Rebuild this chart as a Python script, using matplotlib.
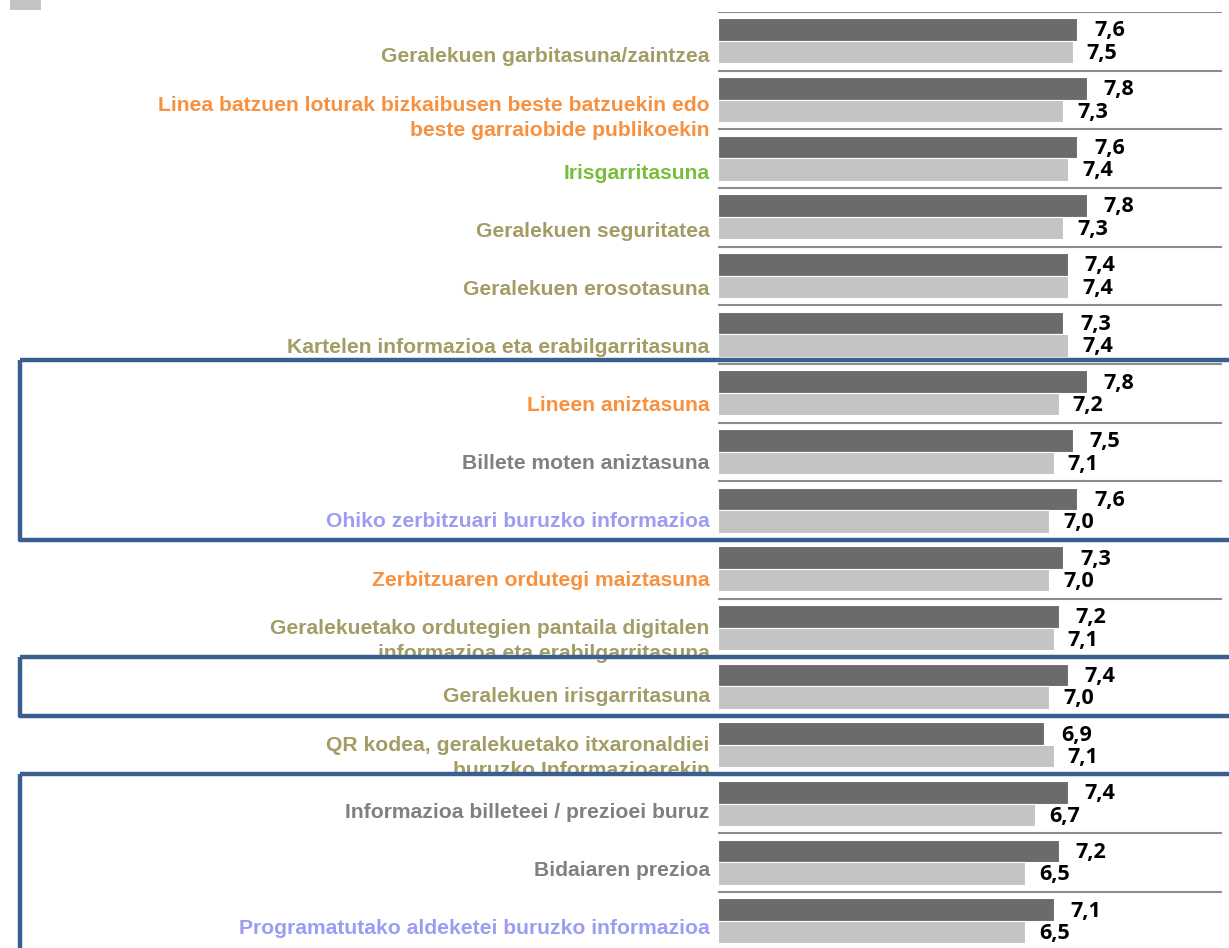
import matplotlib
matplotlib.use("Agg")
import matplotlib.pyplot as plt
import matplotlib.transforms as mtransforms
from matplotlib.patches import Rectangle

categories = [
    "Geralekuen garbitasuna/zaintzea",
    "Linea batzuen loturak bizkaibusen beste batzuekin edo\nbeste garraiobide publikoekin",
    "Irisgarritasuna",
    "Geralekuen seguritatea",
    "Geralekuen erosotasuna",
    "Kartelen informazioa eta erabilgarritasuna",
    "Lineen aniztasuna",
    "Billete moten aniztasuna",
    "Ohiko zerbitzuari buruzko informazioa",
    "Zerbitzuaren ordutegi maiztasuna",
    "Geralekuetako ordutegien pantaila digitalen\ninformazioa eta erabilgarritasuna",
    "Geralekuen irisgarritasuna",
    "QR kodea, geralekuetako itxaronaldiei\nburuzko Informazioarekin",
    "Informazioa billeteei / prezioei buruz",
    "Bidaiaren prezioa",
    "Programatutako aldeketei buruzko informazioa",
]
series_dark = [7.6, 7.8, 7.6, 7.8, 7.4, 7.3, 7.8, 7.5, 7.6, 7.3, 7.2, 7.4, 6.9, 7.4, 7.2, 7.1]
series_light = [7.5, 7.3, 7.4, 7.3, 7.4, 7.4, 7.2, 7.1, 7.0, 7.0, 7.1, 7.0, 7.1, 6.7, 6.5, 6.5]
label_kind = ["olive", "orange", "green", "olive", "olive", "olive", "orange", "gray",
              "lavender", "orange", "olive", "olive", "olive", "gray", "gray", "lavender"]
# highlighted groups (first row, last row)
groups = [(6, 8), (11, 11), (13, 15)]

palette = {"olive": "#A39C64", "orange": "#F7913F", "green": "#77BE3A",
           "gray": "#808080", "lavender": "#9C9CF5"}
C_DARK = "#6B6B6B"
C_LIGHT = "#C4C4C4"
C_BOX = "#3A5F8E"

W, H = 1229, 948
fig = plt.figure(figsize=(W / 100, H / 100), dpi=100)
ax_left, ax_right = 718, 1222
ax_top, ax_bot = 12, 948
ax = fig.add_axes([ax_left / W, 1 - ax_bot / H, (ax_right - ax_left) / W, (ax_bot - ax_top) / H])

n = len(categories)
row_h = 58.67
ymax = (ax_bot - ax_top) / row_h
ax.set_ylim(ymax, 0)
ax.set_xlim(0, (ax_right - ax_left) / 47.3)

idx = list(range(n))
dark_y = [i + 0.30 for i in idx]
light_y = [i + 0.685 for i in idx]
ax.barh(dark_y, series_dark, height=0.39, color=C_DARK, edgecolor="white", linewidth=0.8, zorder=3)
ax.barh(light_y, series_light, height=0.38, color=C_LIGHT, edgecolor="white", linewidth=0.8, zorder=3)

for i in idx:
    ax.axhline(i, color="#8C8C8C", linewidth=1.5, zorder=2)

vfont = dict(family=["Open Sans", "DejaVu Sans"], weight="bold", size=15.5, color="black")
for y, v in zip(dark_y, series_dark):
    ax.annotate(f"{v:.1f}".replace(".", ","), (v, y), xytext=(12, -1), textcoords="offset points",
                ha="left", va="center", annotation_clip=False, **vfont)
for y, v in zip(light_y, series_light):
    ax.annotate(f"{v:.1f}".replace(".", ","), (v, y), xytext=(10, -1), textcoords="offset points",
                ha="left", va="center", annotation_clip=False, **vfont)

ax.set_yticks([i * 0.991 + 0.73 for i in idx])
ax.set_yticklabels(categories)
for lab, kind in zip(ax.get_yticklabels(), label_kind):
    lab.set_color(palette[kind])
    lab.set_fontfamily(["Liberation Sans", "DejaVu Sans"])
    lab.set_fontweight("bold")
    lab.set_fontsize(15.2)
    lab.set_multialignment("right")
    lab.set_linespacing(1.4)
ax.tick_params(axis="y", length=0, pad=6)
ax.tick_params(axis="x", bottom=False, labelbottom=False)
for s in ax.spines.values():
    s.set_visible(False)

# highlight boxes
trans = mtransforms.blended_transform_factory(fig.transFigure, ax.transData)
for r0, r1 in groups:
    top = r0 - 0.06 if r0 == 6 else r0 - 0.005
    bot = r1 + 1.005
    rect = Rectangle((19.5 / W, top), 1.2, bot - top, transform=trans, fill=False,
                     edgecolor=C_BOX, linewidth=3.2, joinstyle="round", clip_on=False, zorder=5)
    fig.add_artist(rect)

# legend swatch remnant at top left
fig.add_artist(Rectangle((10 / W, 1 - 10 / H), 31 / W, 10 / H, transform=fig.transFigure,
                         facecolor=C_LIGHT, edgecolor="none"))

fig.savefig("out.png", dpi=100)
